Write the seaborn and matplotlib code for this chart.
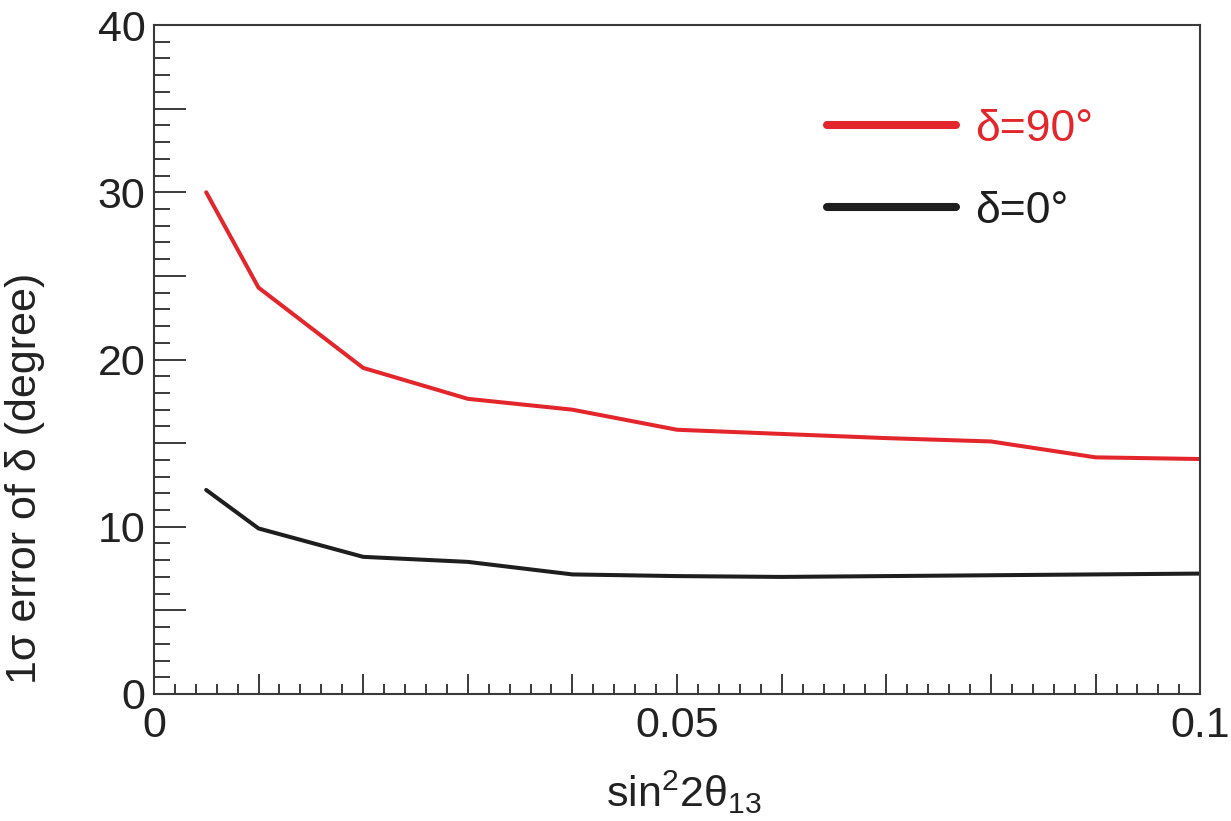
import numpy as np
import matplotlib
matplotlib.use("Agg")
import matplotlib.pyplot as plt
from matplotlib.lines import Line2D
from matplotlib.ticker import MultipleLocator
import seaborn as sns
import pandas as pd

# data
sin2 = [0.005, 0.01, 0.02, 0.03, 0.04, 0.05, 0.06, 0.07, 0.08, 0.09, 0.1]
err_d90 = [30.0, 24.3, 19.5, 17.65, 17.0, 15.8, 15.55, 15.3, 15.1, 14.15, 14.05]
err_d0 = [12.2, 9.9, 8.2, 7.9, 7.15, 7.05, 7.0, 7.05, 7.1, 7.15, 7.2]
series_names = ["δ=90°", "δ=0°"]
series_colors = ["#e3262b", "#1e1e1e"]
x_ticklabels = {0.0: "0", 0.05: "0.05", 0.1: "0.1"}
y_ticklabels = {0: "0", 10: "10", 20: "20", 30: "30", 40: "40"}

df = pd.DataFrame({
    "x": sin2 + sin2,
    "y": err_d90 + err_d0,
    "case": [series_names[0]] * len(sin2) + [series_names[1]] * len(sin2),
})

sns.set_style("ticks")
plt.rcParams["font.family"] = ["Liberation Sans", "DejaVu Sans"]
plt.rcParams["mathtext.fontset"] = "custom"
plt.rcParams["mathtext.rm"] = "Liberation Sans"
plt.rcParams["mathtext.it"] = "Liberation Sans:italic"

fig = plt.figure(figsize=(12.31, 8.21), dpi=100)
ax = fig.add_axes([0.125, 0.1547, 0.85, 0.8148])

sns.lineplot(data=df, x="x", y="y", hue="case", palette=dict(zip(series_names, series_colors)),
             linewidth=2.9, legend=False, ax=ax)

ax.xaxis.set_major_locator(MultipleLocator(0.01))
ax.xaxis.set_minor_locator(MultipleLocator(0.002))
ax.yaxis.set_major_locator(MultipleLocator(5))
ax.yaxis.set_minor_locator(MultipleLocator(1))
ax.set_xlim(0, 0.1)
ax.set_ylim(0, 40)
xt = [v for v in ax.get_xticks() if -1e-9 <= v <= 0.1 + 1e-9]
ax.set_xticks(xt)
ax.set_xticklabels([x_ticklabels.get(round(v, 3), "") for v in xt])
yt = [v for v in ax.get_yticks() if 0 <= v <= 40]
ax.set_yticks(yt)
ax.set_yticklabels([y_ticklabels.get(int(round(v)), "") for v in yt])
ax.set_xlim(0, 0.1)
ax.set_ylim(0, 40)

edge = "#3a3a3a"
for s in ax.spines.values():
    s.set_visible(True)
    s.set_linewidth(1.5)
    s.set_color(edge)

ax.tick_params(axis="x", which="major", direction="in", length=14.5, width=1.4, color=edge,
               labelsize=31, pad=9, labelcolor="#222222")
ax.tick_params(axis="x", which="minor", direction="in", length=7, width=1.4, color=edge)
ax.tick_params(axis="y", which="major", direction="in", length=23, width=1.4, color=edge,
               labelsize=31, pad=6, labelcolor="#222222")
ax.tick_params(axis="y", which="minor", direction="in", length=11.5, width=1.4, color=edge)

ax.set_xlabel("sin$^{2}$2θ$_{13}$", fontsize=31, color="#222222")
ax.xaxis.set_label_coords(0.506, -0.112)
ax.set_ylabel("1σ error of δ (degree)", fontsize=31, color="#222222")
ax.yaxis.set_label_coords(-0.104, 0.323)

handles = [Line2D([0], [0], color=c, linewidth=5.8) for c in series_colors]
leg = ax.legend(handles, series_names, loc="upper left", bbox_to_anchor=(0.643, 0.875),
                frameon=False, fontsize=32, handlelength=2.9, handletextpad=0.45,
                labelspacing=0.93, borderpad=0, borderaxespad=0, labelcolor=series_colors)

fig.savefig("out.png", dpi=100)
